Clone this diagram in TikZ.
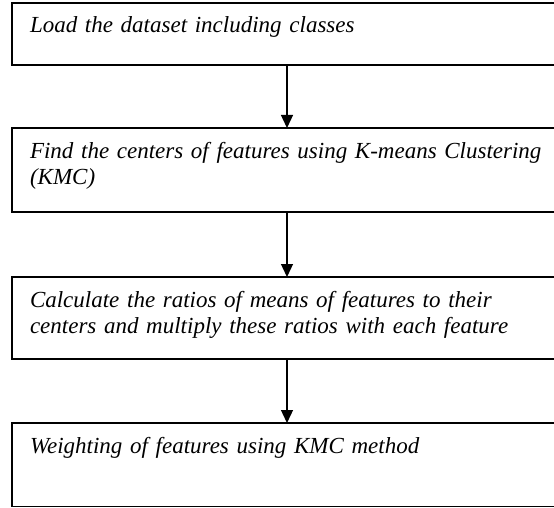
\documentclass[tikz,border=0pt]{standalone}
\usepackage{fontspec}
\usepackage{xcolor}
\usetikzlibrary{positioning,arrows.meta}
\newfontfamily\flowfont{Liberation Serif}
\definecolor{flowink}{HTML}{000000}
\newcommand{\flowsize}{\fontsize{23}{26.5}\selectfont}

\begin{document}
\begin{tikzpicture}[x=1pt, y=1pt,
  stepbox/.style={draw=flowink, line width=1.3pt, text width=524pt, inner xsep=18pt, inner ysep=0pt,
    outer sep=0pt, align=left, text height=30pt, font=\flowfont\itshape\flowsize},
  flowarrow/.style={draw=flowink, line width=1.3pt, -{Triangle[length=13pt, width=12pt]}}]

  \clip (0,0) rectangle (554,-508);

  \node[stepbox, anchor=north west, text depth=32pt] (load) at (12,-3) {Load the dataset including classes};
  \node[stepbox, below=63pt of load, text depth=54pt] (centers) {Find the centers of features using K-means Clustering\\(KMC)};
  \node[stepbox, below=65pt of centers, text depth=52pt] (ratios) {Calculate the ratios of means of features to their\\centers and multiply these ratios with each feature};
  \node[stepbox, below=64pt of ratios, text depth=53.5pt] (weights) {Weighting of features using KMC method};

  % arrows run down one common vertical
  \coordinate (axis) at (287,0);
  \draw[flowarrow] (load.south -| axis) -- (centers.north -| axis);
  \draw[flowarrow] (centers.south -| axis) -- (ratios.north -| axis);
  \draw[flowarrow] (ratios.south -| axis) -- (weights.north -| axis);

\end{tikzpicture}
\end{document}
